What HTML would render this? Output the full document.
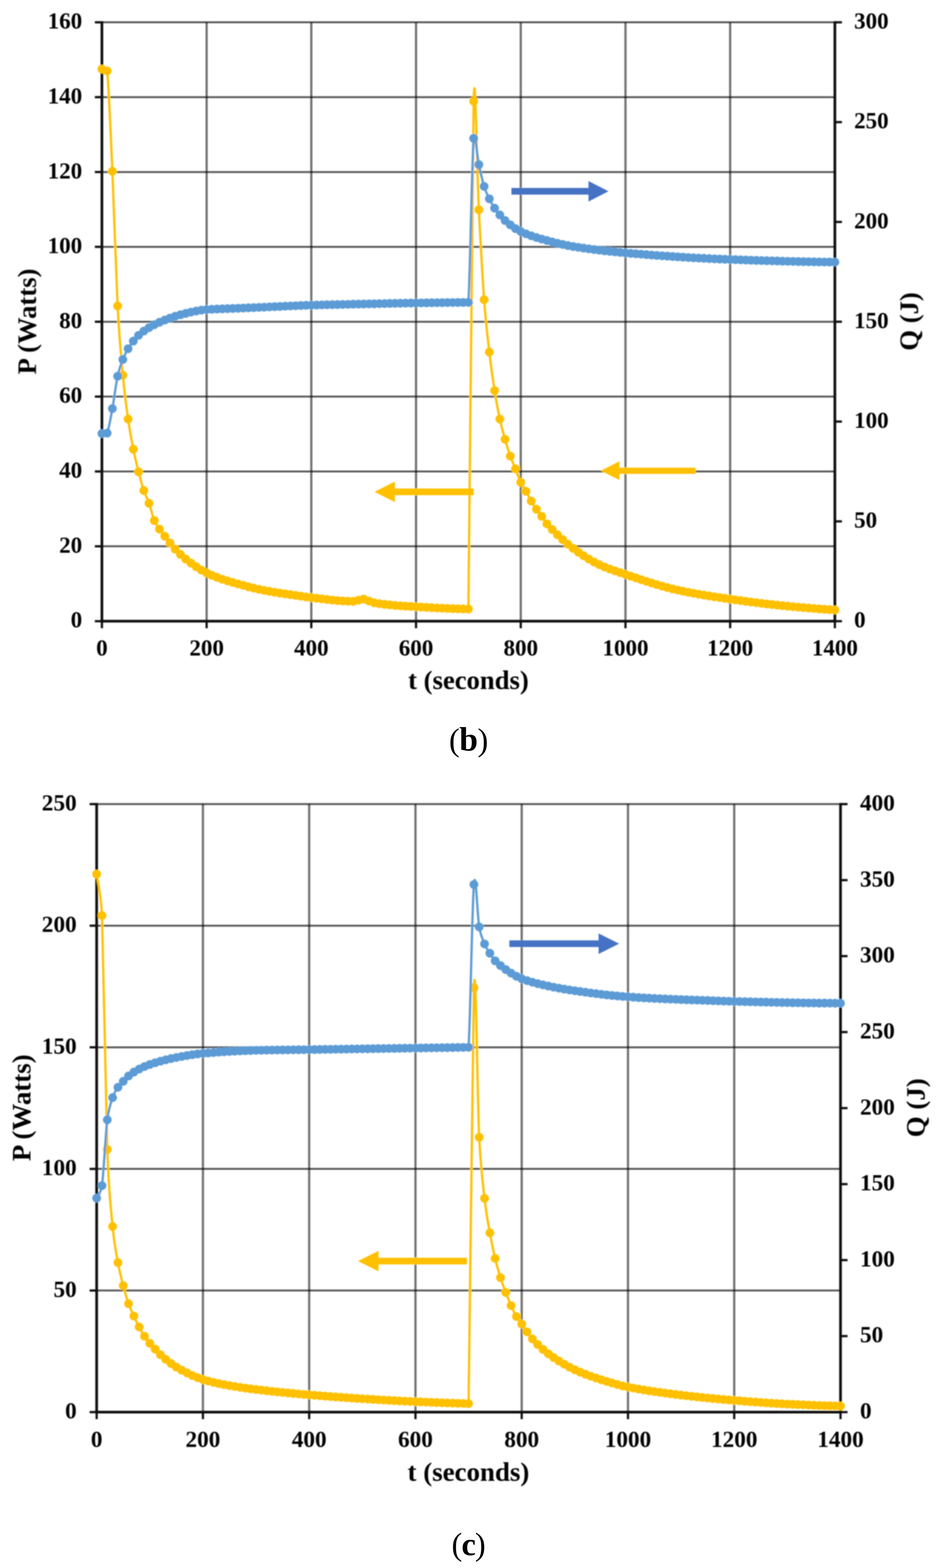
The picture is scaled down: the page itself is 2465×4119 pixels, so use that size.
<!DOCTYPE html>
<html lang="en">
<head>
<meta charset="utf-8">
<title>P (Watts) and Q (J) versus t (seconds)</title>
<style>
html,body{margin:0;padding:0;background:#fff;}
body{width:2465px;height:4119px;overflow:hidden;}
svg{display:block;}
</style>
</head>
<body>
<svg width="2465" height="4119" viewBox="0 0 2465 4119" font-family="'Liberation Serif', 'DejaVu Serif', serif" font-weight="bold" fill="#000">
<defs><filter id="soft" x="0" y="0" width="2465" height="4119" filterUnits="userSpaceOnUse"><feGaussianBlur stdDeviation="1.6"/></filter><filter id="soft2" x="0" y="0" width="2465" height="4119" filterUnits="userSpaceOnUse"><feGaussianBlur stdDeviation="0.5"/></filter></defs>
<rect width="2465" height="4119" fill="#fff"/>
<g filter="url(#soft)">
<g id="chart-b">
<g stroke="#000" stroke-opacity="0.66" stroke-width="5.0" fill="none">
<line x1="267.8" y1="1435.1" x2="2194.0" y2="1435.1"/>
<line x1="267.8" y1="1238.5" x2="2194.0" y2="1238.5"/>
<line x1="267.8" y1="1041.8" x2="2194.0" y2="1041.8"/>
<line x1="267.8" y1="845.2" x2="2194.0" y2="845.2"/>
<line x1="267.8" y1="648.5" x2="2194.0" y2="648.5"/>
<line x1="267.8" y1="451.9" x2="2194.0" y2="451.9"/>
<line x1="267.8" y1="255.2" x2="2194.0" y2="255.2"/>
<line x1="267.8" y1="58.6" x2="2194.0" y2="58.6"/>
</g>
<g stroke="#000" stroke-opacity="0.56" stroke-width="5.8" fill="none">
<line x1="543.0" y1="58.6" x2="543.0" y2="1631.8"/>
<line x1="818.1" y1="58.6" x2="818.1" y2="1631.8"/>
<line x1="1093.3" y1="58.6" x2="1093.3" y2="1631.8"/>
<line x1="1368.5" y1="58.6" x2="1368.5" y2="1631.8"/>
<line x1="1643.7" y1="58.6" x2="1643.7" y2="1631.8"/>
<line x1="1918.8" y1="58.6" x2="1918.8" y2="1631.8"/>
</g>
<g stroke="#0a0a0a" fill="none">
<g stroke-width="7.0">
<line x1="267.8" y1="55.7" x2="267.8" y2="1635.3"/>
<line x1="2194.0" y1="55.7" x2="2194.0" y2="1635.3"/>
<line x1="267.8" y1="1631.8" x2="2194.0" y2="1631.8"/>
</g>
<g stroke-width="5.8">
<line x1="249.3" y1="1631.8" x2="267.8" y2="1631.8"/>
<line x1="249.3" y1="1435.1" x2="267.8" y2="1435.1"/>
<line x1="249.3" y1="1238.5" x2="267.8" y2="1238.5"/>
<line x1="249.3" y1="1041.8" x2="267.8" y2="1041.8"/>
<line x1="249.3" y1="845.2" x2="267.8" y2="845.2"/>
<line x1="249.3" y1="648.5" x2="267.8" y2="648.5"/>
<line x1="249.3" y1="451.9" x2="267.8" y2="451.9"/>
<line x1="249.3" y1="255.2" x2="267.8" y2="255.2"/>
<line x1="249.3" y1="58.6" x2="267.8" y2="58.6"/>
<line x1="2194.0" y1="1631.8" x2="2212.5" y2="1631.8"/>
<line x1="2194.0" y1="1369.6" x2="2212.5" y2="1369.6"/>
<line x1="2194.0" y1="1107.4" x2="2212.5" y2="1107.4"/>
<line x1="2194.0" y1="845.2" x2="2212.5" y2="845.2"/>
<line x1="2194.0" y1="583.0" x2="2212.5" y2="583.0"/>
<line x1="2194.0" y1="320.8" x2="2212.5" y2="320.8"/>
<line x1="2194.0" y1="58.6" x2="2212.5" y2="58.6"/>
<line x1="267.8" y1="1631.8" x2="267.8" y2="1650.3"/>
<line x1="543.0" y1="1631.8" x2="543.0" y2="1650.3"/>
<line x1="818.1" y1="1631.8" x2="818.1" y2="1650.3"/>
<line x1="1093.3" y1="1631.8" x2="1093.3" y2="1650.3"/>
<line x1="1368.5" y1="1631.8" x2="1368.5" y2="1650.3"/>
<line x1="1643.7" y1="1631.8" x2="1643.7" y2="1650.3"/>
<line x1="1918.8" y1="1631.8" x2="1918.8" y2="1650.3"/>
<line x1="2194.0" y1="1631.8" x2="2194.0" y2="1650.3"/>
</g></g>
<path d="M267.8 181.5C270.1 182.3 280.8 179.2 281.6 186.4C286.1 231.2 290.7 347.0 295.3 449.9C299.9 552.8 304.5 714.6 309.1 803.9C313.7 893.2 318.2 936.3 322.8 985.8C327.4 1035.3 332.0 1068.5 336.6 1100.8C341.2 1133.2 345.8 1156.9 350.4 1180.0C354.9 1203.1 359.5 1221.4 364.1 1239.5C368.7 1257.6 373.3 1274.9 377.9 1288.6C382.5 1302.4 387.0 1309.0 391.6 1322.1C396.2 1335.2 400.8 1356.0 405.4 1367.3C410.0 1378.6 414.6 1383.0 419.1 1389.9C423.7 1396.8 428.3 1402.5 432.9 1408.6C437.5 1414.7 442.1 1420.6 446.7 1426.3C451.2 1432.0 455.8 1437.5 460.4 1442.5C465.0 1447.6 469.6 1452.1 474.2 1456.5C478.8 1460.8 483.4 1464.8 487.9 1468.6C492.5 1472.4 497.1 1475.8 501.7 1479.1C506.3 1482.5 510.9 1485.8 515.5 1488.8C520.0 1491.9 524.6 1494.8 529.2 1497.5C533.8 1500.2 538.4 1502.7 543.0 1505.0C547.6 1507.3 552.1 1509.3 556.7 1511.3C561.3 1513.3 565.9 1515.0 570.5 1516.8C575.1 1518.5 579.7 1520.1 584.2 1521.7C588.8 1523.2 593.4 1524.7 598.0 1526.1C602.6 1527.5 607.2 1528.8 611.8 1530.1C616.4 1531.4 620.9 1532.7 625.5 1533.9C630.1 1535.2 634.7 1536.4 639.3 1537.7C643.9 1538.9 648.5 1540.2 653.0 1541.5C657.6 1542.7 662.2 1543.9 666.8 1545.1C671.4 1546.2 676.0 1547.2 680.6 1548.2C685.1 1549.2 689.7 1550.1 694.3 1550.9C698.9 1551.8 703.5 1552.6 708.1 1553.4C712.7 1554.2 717.2 1555.0 721.8 1555.8C726.4 1556.5 731.0 1557.2 735.6 1558.0C740.2 1558.7 744.8 1559.4 749.4 1560.0C753.9 1560.7 758.5 1561.4 763.1 1562.1C767.7 1562.7 772.3 1563.4 776.9 1564.0C781.5 1564.7 786.0 1565.3 790.6 1566.0C795.2 1566.7 799.8 1567.4 804.4 1568.0C809.0 1568.6 813.6 1569.3 818.1 1569.9C822.7 1570.4 827.3 1570.9 831.9 1571.5C836.5 1572.0 841.1 1572.6 845.7 1573.2C850.2 1573.7 854.8 1574.3 859.4 1574.8C864.0 1575.3 868.6 1575.9 873.2 1576.3C877.8 1576.8 882.3 1577.3 886.9 1577.7C891.5 1578.1 896.1 1578.4 900.7 1578.7C905.3 1579.0 909.9 1579.3 914.5 1579.4C919.0 1579.6 923.6 1580.1 928.2 1579.7C932.8 1579.2 937.4 1577.7 942.0 1576.7C946.6 1575.8 951.1 1573.5 955.7 1573.8C960.3 1574.1 964.9 1577.1 969.5 1578.7C974.1 1580.3 978.7 1582.4 983.2 1583.6C987.8 1584.8 992.4 1585.1 997.0 1585.8C1001.6 1586.5 1006.2 1587.1 1010.8 1587.6C1015.3 1588.2 1019.9 1588.7 1024.5 1589.1C1029.1 1589.6 1033.7 1590.0 1038.3 1590.4C1042.9 1590.8 1047.5 1591.1 1052.0 1591.4C1056.6 1591.7 1061.2 1592.0 1065.8 1592.3C1070.4 1592.6 1075.0 1592.9 1079.6 1593.1C1084.1 1593.4 1088.7 1593.7 1093.3 1593.9C1097.9 1594.2 1102.5 1594.5 1107.1 1594.8C1111.7 1595.0 1116.2 1595.3 1120.8 1595.5C1125.4 1595.8 1130.0 1596.1 1134.6 1596.3C1139.2 1596.5 1143.8 1596.8 1148.3 1597.0C1152.9 1597.2 1157.5 1597.5 1162.1 1597.7C1166.7 1597.9 1171.3 1598.1 1175.9 1598.3C1180.5 1598.5 1185.0 1598.6 1189.6 1598.8C1194.2 1599.0 1198.8 1599.1 1203.4 1599.2C1208.0 1599.4 1212.6 1599.5 1217.1 1599.6C1221.7 1599.7 1230.8 1606.7 1230.9 1599.8C1235.5 1377.6 1240.1 440.8 1244.7 266.1C1248.4 123.4 1253.8 464.4 1258.4 551.2C1263.0 638.1 1267.6 724.9 1272.2 787.2C1276.8 849.5 1281.3 885.0 1285.9 924.8C1290.5 964.7 1295.1 996.8 1299.7 1026.1C1304.3 1055.5 1308.9 1079.5 1313.5 1100.8C1318.0 1122.1 1322.6 1137.7 1327.2 1153.9C1331.8 1170.2 1336.4 1185.2 1341.0 1198.2C1345.6 1211.1 1350.1 1220.1 1354.7 1231.6C1359.3 1243.1 1363.9 1257.2 1368.5 1267.0C1373.1 1276.8 1377.7 1282.4 1382.2 1290.6C1386.8 1298.8 1391.4 1308.3 1396.0 1316.2C1400.6 1324.0 1405.2 1331.1 1409.8 1337.8C1414.3 1344.5 1418.9 1350.1 1423.5 1356.5C1428.1 1362.9 1432.7 1370.4 1437.3 1376.2C1441.9 1381.9 1446.5 1386.2 1451.0 1390.9C1455.6 1395.7 1460.2 1400.2 1464.8 1404.7C1469.4 1409.1 1474.0 1413.3 1478.6 1417.5C1483.1 1421.6 1487.7 1425.8 1492.3 1429.6C1496.9 1433.5 1501.5 1437.1 1506.1 1440.6C1510.7 1444.0 1515.2 1447.2 1519.8 1450.5C1524.4 1453.7 1529.0 1456.8 1533.6 1459.8C1538.2 1462.8 1542.8 1465.8 1547.3 1468.5C1551.9 1471.3 1556.5 1473.9 1561.1 1476.4C1565.7 1478.9 1570.3 1481.2 1574.9 1483.3C1579.5 1485.5 1584.0 1487.4 1588.6 1489.3C1593.2 1491.2 1597.8 1493.0 1602.4 1494.7C1607.0 1496.4 1611.6 1498.0 1616.1 1499.6C1620.7 1501.2 1625.3 1502.8 1629.9 1504.3C1634.5 1505.8 1639.1 1507.4 1643.7 1508.9C1648.2 1510.4 1652.8 1512.0 1657.4 1513.5C1662.0 1515.1 1666.6 1516.6 1671.2 1518.1C1675.8 1519.7 1680.3 1521.2 1684.9 1522.7C1689.5 1524.2 1694.1 1525.7 1698.7 1527.2C1703.3 1528.7 1707.9 1530.1 1712.5 1531.6C1717.0 1533.0 1721.6 1534.4 1726.2 1535.8C1730.8 1537.1 1735.4 1538.5 1740.0 1539.8C1744.6 1541.1 1749.1 1542.3 1753.7 1543.5C1758.3 1544.7 1762.9 1545.9 1767.5 1547.0C1772.1 1548.1 1776.7 1549.2 1781.2 1550.2C1785.8 1551.2 1790.4 1552.2 1795.0 1553.1C1799.6 1554.0 1804.2 1555.0 1808.8 1555.9C1813.3 1556.7 1817.9 1557.6 1822.5 1558.4C1827.1 1559.3 1831.7 1560.1 1836.3 1560.9C1840.9 1561.7 1845.4 1562.5 1850.0 1563.3C1854.6 1564.0 1859.2 1564.8 1863.8 1565.5C1868.4 1566.2 1873.0 1566.9 1877.6 1567.7C1882.1 1568.4 1886.7 1569.1 1891.3 1569.7C1895.9 1570.4 1900.5 1571.1 1905.1 1571.8C1909.7 1572.5 1914.2 1573.1 1918.8 1573.8C1923.4 1574.5 1928.0 1575.1 1932.6 1575.8C1937.2 1576.4 1941.8 1577.1 1946.3 1577.7C1950.9 1578.3 1955.5 1579.0 1960.1 1579.6C1964.7 1580.2 1969.3 1580.8 1973.9 1581.4C1978.4 1582.0 1983.0 1582.6 1987.6 1583.2C1992.2 1583.8 1996.8 1584.3 2001.4 1584.9C2006.0 1585.4 2010.6 1586.0 2015.1 1586.5C2019.7 1587.1 2024.3 1587.6 2028.9 1588.1C2033.5 1588.6 2038.1 1589.1 2042.7 1589.6C2047.2 1590.1 2051.8 1590.5 2056.4 1591.0C2061.0 1591.5 2065.6 1591.9 2070.2 1592.3C2074.8 1592.8 2079.3 1593.2 2083.9 1593.7C2088.5 1594.1 2093.1 1594.5 2097.7 1594.9C2102.3 1595.3 2106.9 1595.7 2111.4 1596.1C2116.0 1596.5 2120.6 1596.9 2125.2 1597.3C2129.8 1597.7 2134.4 1598.1 2139.0 1598.4C2143.6 1598.8 2148.1 1599.1 2152.7 1599.5C2157.3 1599.8 2161.9 1600.2 2166.5 1600.5C2171.1 1600.8 2175.7 1601.1 2180.2 1601.4C2184.8 1601.7 2191.7 1602.2 2194.0 1602.3" fill="none" stroke="#FFC000" stroke-width="6.0" stroke-linejoin="round" stroke-linecap="round"/>
<path d="M267.8 181.5h0M281.6 186.4h0M295.3 449.9h0M309.1 803.9h0M322.8 985.8h0M336.6 1100.8h0M350.4 1180.0h0M364.1 1239.5h0M377.9 1288.6h0M391.6 1322.1h0M405.4 1367.3h0M419.1 1389.9h0M432.9 1408.6h0M446.7 1426.3h0M460.4 1442.5h0M474.2 1456.5h0M487.9 1468.6h0M501.7 1479.1h0M515.5 1488.8h0M529.2 1497.5h0M543.0 1505.0h0M556.7 1511.3h0M570.5 1516.8h0M584.2 1521.7h0M598.0 1526.1h0M611.8 1530.1h0M625.5 1533.9h0M639.3 1537.7h0M653.0 1541.5h0M666.8 1545.1h0M680.6 1548.2h0M694.3 1550.9h0M708.1 1553.4h0M721.8 1555.8h0M735.6 1558.0h0M749.4 1560.0h0M763.1 1562.1h0M776.9 1564.0h0M790.6 1566.0h0M804.4 1568.0h0M818.1 1569.9h0M831.9 1571.5h0M845.7 1573.2h0M859.4 1574.8h0M873.2 1576.3h0M886.9 1577.7h0M900.7 1578.7h0M914.5 1579.4h0M928.2 1579.7h0M942.0 1576.7h0M955.7 1573.8h0M969.5 1578.7h0M983.2 1583.6h0M997.0 1585.8h0M1010.8 1587.6h0M1024.5 1589.1h0M1038.3 1590.4h0M1052.0 1591.4h0M1065.8 1592.3h0M1079.6 1593.1h0M1093.3 1593.9h0M1107.1 1594.8h0M1120.8 1595.5h0M1134.6 1596.3h0M1148.3 1597.0h0M1162.1 1597.7h0M1175.9 1598.3h0M1189.6 1598.8h0M1203.4 1599.2h0M1217.1 1599.6h0M1230.9 1599.8h0M1244.7 266.1h0M1258.4 551.2h0M1272.2 787.2h0M1285.9 924.8h0M1299.7 1026.1h0M1313.5 1100.8h0M1327.2 1153.9h0M1341.0 1198.2h0M1354.7 1231.6h0M1368.5 1267.0h0M1382.2 1290.6h0M1396.0 1316.2h0M1409.8 1337.8h0M1423.5 1356.5h0M1437.3 1376.2h0M1451.0 1390.9h0M1464.8 1404.7h0M1478.6 1417.5h0M1492.3 1429.6h0M1506.1 1440.6h0M1519.8 1450.5h0M1533.6 1459.8h0M1547.3 1468.5h0M1561.1 1476.4h0M1574.9 1483.3h0M1588.6 1489.3h0M1602.4 1494.7h0M1616.1 1499.6h0M1629.9 1504.3h0M1643.7 1508.9h0M1657.4 1513.5h0M1671.2 1518.1h0M1684.9 1522.7h0M1698.7 1527.2h0M1712.5 1531.6h0M1726.2 1535.8h0M1740.0 1539.8h0M1753.7 1543.5h0M1767.5 1547.0h0M1781.2 1550.2h0M1795.0 1553.1h0M1808.8 1555.9h0M1822.5 1558.4h0M1836.3 1560.9h0M1850.0 1563.3h0M1863.8 1565.5h0M1877.6 1567.7h0M1891.3 1569.7h0M1905.1 1571.8h0M1918.8 1573.8h0M1932.6 1575.8h0M1946.3 1577.7h0M1960.1 1579.6h0M1973.9 1581.4h0M1987.6 1583.2h0M2001.4 1584.9h0M2015.1 1586.5h0M2028.9 1588.1h0M2042.7 1589.6h0M2056.4 1591.0h0M2070.2 1592.3h0M2083.9 1593.7h0M2097.7 1594.9h0M2111.4 1596.1h0M2125.2 1597.3h0M2139.0 1598.4h0M2152.7 1599.5h0M2166.5 1600.5h0M2180.2 1601.4h0M2194.0 1602.3h0" fill="none" stroke="#FFC000" stroke-width="23.0" stroke-linecap="round"/>
<path d="M267.8 1138.9C270.1 1138.7 278.9 1144.2 281.6 1137.8C286.1 1126.9 290.7 1098.2 295.3 1073.3C299.9 1048.4 304.5 1009.9 309.1 988.4C313.7 966.9 318.2 956.4 322.8 944.3C327.4 932.3 332.0 924.0 336.6 916.0C341.2 908.0 345.8 901.9 350.4 896.1C354.9 890.2 359.5 885.2 364.1 880.9C368.7 876.5 373.3 873.2 377.9 869.8C382.5 866.5 387.0 863.5 391.6 860.7C396.2 857.9 400.8 855.4 405.4 853.1C410.0 850.7 414.6 848.7 419.1 846.6C423.7 844.6 428.3 842.6 432.9 840.8C437.5 838.9 442.1 837.1 446.7 835.5C451.2 833.8 455.8 832.2 460.4 830.8C465.0 829.4 469.6 828.1 474.2 826.8C478.8 825.6 483.4 824.4 487.9 823.3C492.5 822.1 497.1 821.0 501.7 819.9C506.3 818.9 510.9 817.9 515.5 817.0C520.0 816.1 524.6 815.3 529.2 814.7C533.8 814.0 538.4 813.6 543.0 813.2C547.6 812.8 552.1 812.6 556.7 812.4C561.3 812.2 565.9 812.0 570.5 811.8C575.1 811.6 579.7 811.5 584.2 811.3C588.8 811.1 593.4 811.0 598.0 810.8C602.6 810.7 607.2 810.5 611.8 810.3C616.4 810.1 620.9 809.9 625.5 809.8C630.1 809.6 634.7 809.4 639.3 809.2C643.9 809.0 648.5 808.8 653.0 808.6C657.6 808.4 662.2 808.2 666.8 808.0C671.4 807.8 676.0 807.6 680.6 807.4C685.1 807.2 689.7 807.1 694.3 806.9C698.9 806.6 703.5 806.4 708.1 806.2C712.7 806.0 717.2 805.8 721.8 805.6C726.4 805.4 731.0 805.2 735.6 805.0C740.2 804.8 744.8 804.6 749.4 804.3C753.9 804.1 758.5 803.9 763.1 803.7C767.7 803.5 772.3 803.3 776.9 803.2C781.5 803.0 786.0 802.8 790.6 802.6C795.2 802.4 799.8 802.3 804.4 802.1C809.0 802.0 813.6 801.8 818.1 801.7C822.7 801.5 827.3 801.4 831.9 801.3C836.5 801.2 841.1 801.0 845.7 800.9C850.2 800.8 854.8 800.7 859.4 800.6C864.0 800.5 868.6 800.4 873.2 800.3C877.8 800.2 882.3 800.0 886.9 800.0C891.5 799.9 896.1 799.8 900.7 799.7C905.3 799.6 909.9 799.5 914.5 799.4C919.0 799.3 923.6 799.2 928.2 799.1C932.8 799.0 937.4 798.9 942.0 798.8C946.6 798.7 951.1 798.6 955.7 798.5C960.3 798.4 964.9 798.3 969.5 798.2C974.1 798.1 978.7 798.0 983.2 798.0C987.8 797.9 992.4 797.8 997.0 797.7C1001.6 797.6 1006.2 797.5 1010.8 797.4C1015.3 797.3 1019.9 797.2 1024.5 797.1C1029.1 797.0 1033.7 796.9 1038.3 796.8C1042.9 796.8 1047.5 796.7 1052.0 796.6C1056.6 796.5 1061.2 796.4 1065.8 796.3C1070.4 796.3 1075.0 796.2 1079.6 796.1C1084.1 796.0 1088.7 796.0 1093.3 795.9C1097.9 795.8 1102.5 795.8 1107.1 795.7C1111.7 795.6 1116.2 795.6 1120.8 795.5C1125.4 795.5 1130.0 795.4 1134.6 795.3C1139.2 795.3 1143.8 795.2 1148.3 795.2C1152.9 795.1 1157.5 795.1 1162.1 795.0C1166.7 795.0 1171.3 794.9 1175.9 794.8C1180.5 794.8 1185.0 794.8 1189.6 794.7C1194.2 794.7 1198.8 794.6 1203.4 794.6C1208.0 794.5 1212.6 794.5 1217.1 794.4C1221.7 794.4 1230.5 801.2 1230.9 794.3C1235.5 722.5 1240.1 423.6 1244.7 363.3C1247.3 328.1 1253.8 411.4 1258.4 432.5C1263.0 453.6 1267.6 474.7 1272.2 489.7C1276.8 504.6 1281.3 512.6 1285.9 522.2C1290.5 531.7 1295.1 539.7 1299.7 546.8C1304.3 553.9 1308.9 559.2 1313.5 564.6C1318.0 570.1 1322.6 575.0 1327.2 579.3C1331.8 583.7 1336.4 587.2 1341.0 590.7C1345.6 594.2 1350.1 597.6 1354.7 600.5C1359.3 603.4 1363.9 605.9 1368.5 608.2C1373.1 610.5 1377.7 612.3 1382.2 614.2C1386.8 616.1 1391.4 617.7 1396.0 619.4C1400.6 621.0 1405.2 622.4 1409.8 623.9C1414.3 625.3 1418.9 626.6 1423.5 627.9C1428.1 629.3 1432.7 630.5 1437.3 631.8C1441.9 633.0 1446.5 634.3 1451.0 635.5C1455.6 636.7 1460.2 637.8 1464.8 638.9C1469.4 640.1 1474.0 641.1 1478.6 642.1C1483.1 643.2 1487.7 644.1 1492.3 645.0C1496.9 645.9 1501.5 646.7 1506.1 647.5C1510.7 648.3 1515.2 649.0 1519.8 649.7C1524.4 650.4 1529.0 651.1 1533.6 651.8C1538.2 652.4 1542.8 653.1 1547.3 653.7C1551.9 654.3 1556.5 654.9 1561.1 655.5C1565.7 656.1 1570.3 656.7 1574.9 657.2C1579.5 657.8 1584.0 658.3 1588.6 658.8C1593.2 659.4 1597.8 659.9 1602.4 660.3C1607.0 660.8 1611.6 661.3 1616.1 661.7C1620.7 662.2 1625.3 662.6 1629.9 663.1C1634.5 663.5 1639.1 663.9 1643.7 664.3C1648.2 664.7 1652.8 665.1 1657.4 665.5C1662.0 665.8 1666.6 666.2 1671.2 666.6C1675.8 667.0 1680.3 667.3 1684.9 667.7C1689.5 668.1 1694.1 668.4 1698.7 668.8C1703.3 669.2 1707.9 669.5 1712.5 669.9C1717.0 670.2 1721.6 670.5 1726.2 670.9C1730.8 671.2 1735.4 671.6 1740.0 671.9C1744.6 672.2 1749.1 672.5 1753.7 672.8C1758.3 673.2 1762.9 673.5 1767.5 673.8C1772.1 674.1 1776.7 674.4 1781.2 674.7C1785.8 675.0 1790.4 675.3 1795.0 675.5C1799.6 675.8 1804.2 676.1 1808.8 676.4C1813.3 676.6 1817.9 676.9 1822.5 677.2C1827.1 677.4 1831.7 677.7 1836.3 677.9C1840.9 678.1 1845.4 678.4 1850.0 678.6C1854.6 678.8 1859.2 679.1 1863.8 679.3C1868.4 679.5 1873.0 679.7 1877.6 679.9C1882.1 680.1 1886.7 680.3 1891.3 680.5C1895.9 680.7 1900.5 680.9 1905.1 681.1C1909.7 681.3 1914.2 681.4 1918.8 681.6C1923.4 681.8 1928.0 681.9 1932.6 682.1C1937.2 682.2 1941.8 682.4 1946.3 682.6C1950.9 682.7 1955.5 682.9 1960.1 683.0C1964.7 683.2 1969.3 683.3 1973.9 683.5C1978.4 683.7 1983.0 683.8 1987.6 684.0C1992.2 684.1 1996.8 684.3 2001.4 684.4C2006.0 684.5 2010.6 684.7 2015.1 684.8C2019.7 685.0 2024.3 685.1 2028.9 685.2C2033.5 685.4 2038.1 685.5 2042.7 685.6C2047.2 685.8 2051.8 685.9 2056.4 686.0C2061.0 686.1 2065.6 686.3 2070.2 686.4C2074.8 686.5 2079.3 686.6 2083.9 686.7C2088.5 686.8 2093.1 686.9 2097.7 687.0C2102.3 687.1 2106.9 687.2 2111.4 687.3C2116.0 687.4 2120.6 687.5 2125.2 687.6C2129.8 687.7 2134.4 687.7 2139.0 687.8C2143.6 687.9 2148.1 687.9 2152.7 688.0C2157.3 688.1 2161.9 688.1 2166.5 688.2C2171.1 688.2 2175.7 688.3 2180.2 688.3C2184.8 688.3 2191.7 688.4 2194.0 688.4" fill="none" stroke="#5B9BD5" stroke-width="6.0" stroke-linejoin="round" stroke-linecap="round"/>
<path d="M267.8 1138.9h0M281.6 1137.8h0M295.3 1073.3h0M309.1 988.4h0M322.8 944.3h0M336.6 916.0h0M350.4 896.1h0M364.1 880.9h0M377.9 869.8h0M391.6 860.7h0M405.4 853.1h0M419.1 846.6h0M432.9 840.8h0M446.7 835.5h0M460.4 830.8h0M474.2 826.8h0M487.9 823.3h0M501.7 819.9h0M515.5 817.0h0M529.2 814.7h0M543.0 813.2h0M556.7 812.4h0M570.5 811.8h0M584.2 811.3h0M598.0 810.8h0M611.8 810.3h0M625.5 809.8h0M639.3 809.2h0M653.0 808.6h0M666.8 808.0h0M680.6 807.4h0M694.3 806.9h0M708.1 806.2h0M721.8 805.6h0M735.6 805.0h0M749.4 804.3h0M763.1 803.7h0M776.9 803.2h0M790.6 802.6h0M804.4 802.1h0M818.1 801.7h0M831.9 801.3h0M845.7 800.9h0M859.4 800.6h0M873.2 800.3h0M886.9 800.0h0M900.7 799.7h0M914.5 799.4h0M928.2 799.1h0M942.0 798.8h0M955.7 798.5h0M969.5 798.2h0M983.2 798.0h0M997.0 797.7h0M1010.8 797.4h0M1024.5 797.1h0M1038.3 796.8h0M1052.0 796.6h0M1065.8 796.3h0M1079.6 796.1h0M1093.3 795.9h0M1107.1 795.7h0M1120.8 795.5h0M1134.6 795.3h0M1148.3 795.2h0M1162.1 795.0h0M1175.9 794.8h0M1189.6 794.7h0M1203.4 794.6h0M1217.1 794.4h0M1230.9 794.3h0M1244.7 363.3h0M1258.4 432.5h0M1272.2 489.7h0M1285.9 522.2h0M1299.7 546.8h0M1313.5 564.6h0M1327.2 579.3h0M1341.0 590.7h0M1354.7 600.5h0M1368.5 608.2h0M1382.2 614.2h0M1396.0 619.4h0M1409.8 623.9h0M1423.5 627.9h0M1437.3 631.8h0M1451.0 635.5h0M1464.8 638.9h0M1478.6 642.1h0M1492.3 645.0h0M1506.1 647.5h0M1519.8 649.7h0M1533.6 651.8h0M1547.3 653.7h0M1561.1 655.5h0M1574.9 657.2h0M1588.6 658.8h0M1602.4 660.3h0M1616.1 661.7h0M1629.9 663.1h0M1643.7 664.3h0M1657.4 665.5h0M1671.2 666.6h0M1684.9 667.7h0M1698.7 668.8h0M1712.5 669.9h0M1726.2 670.9h0M1740.0 671.9h0M1753.7 672.8h0M1767.5 673.8h0M1781.2 674.7h0M1795.0 675.5h0M1808.8 676.4h0M1822.5 677.2h0M1836.3 677.9h0M1850.0 678.6h0M1863.8 679.3h0M1877.6 679.9h0M1891.3 680.5h0M1905.1 681.1h0M1918.8 681.6h0M1932.6 682.1h0M1946.3 682.6h0M1960.1 683.0h0M1973.9 683.5h0M1987.6 684.0h0M2001.4 684.4h0M2015.1 684.8h0M2028.9 685.2h0M2042.7 685.6h0M2056.4 686.0h0M2070.2 686.4h0M2083.9 686.7h0M2097.7 687.0h0M2111.4 687.3h0M2125.2 687.6h0M2139.0 687.8h0M2152.7 688.0h0M2166.5 688.2h0M2180.2 688.3h0M2194.0 688.4h0" fill="none" stroke="#5B9BD5" stroke-width="23.0" stroke-linecap="round"/>
<polygon fill="#4472C4" points="1344.0,493.8 1546.5,493.8 1546.5,475.5 1599.0,502.5 1546.5,529.5 1546.5,511.2 1344.0,511.2"/>
<polygon fill="#FFC000" points="1244.8,1283.2 1037.8,1283.2 1037.8,1265.0 984.0,1292.0 1037.8,1319.0 1037.8,1300.8 1244.8,1300.8"/>
<polygon fill="#FFC000" points="1828.0,1228.5 1628.0,1228.5 1628.0,1211.8 1579.3,1236.6 1628.0,1261.3 1628.0,1244.7 1828.0,1244.7"/>
<g font-size="60.5">
<text x="216.0" y="1648.4" text-anchor="end">0</text>
<text x="216.0" y="1451.7" text-anchor="end">20</text>
<text x="216.0" y="1255.1" text-anchor="end">40</text>
<text x="216.0" y="1058.4" text-anchor="end">60</text>
<text x="216.0" y="861.8" text-anchor="end">80</text>
<text x="216.0" y="665.1" text-anchor="end">100</text>
<text x="216.0" y="468.5" text-anchor="end">120</text>
<text x="216.0" y="271.9" text-anchor="end">140</text>
<text x="216.0" y="75.2" text-anchor="end">160</text>
<text x="2244.5" y="1648.4">0</text>
<text x="2244.5" y="1386.2">50</text>
<text x="2244.5" y="1124.0">100</text>
<text x="2244.5" y="861.8">150</text>
<text x="2244.5" y="599.6">200</text>
<text x="2244.5" y="337.4">250</text>
<text x="2244.5" y="75.2">300</text>
<text x="267.8" y="1722.0" text-anchor="middle">0</text>
<text x="543.0" y="1722.0" text-anchor="middle">200</text>
<text x="818.1" y="1722.0" text-anchor="middle">400</text>
<text x="1093.3" y="1722.0" text-anchor="middle">600</text>
<text x="1368.5" y="1722.0" text-anchor="middle">800</text>
<text x="1643.7" y="1722.0" text-anchor="middle">1000</text>
<text x="1918.8" y="1722.0" text-anchor="middle">1200</text>
<text x="2194.0" y="1722.0" text-anchor="middle">1400</text>
</g>
<g font-size="70" text-anchor="middle">
<text x="1231.0" y="1810.0">t (seconds)</text>
<text transform="translate(94.5 844.5) rotate(-90)">P (Watts)</text>
<text transform="translate(2412.5 844.5) rotate(-90)">Q (J)</text>
</g>
</g>
<g id="chart-c">
<g stroke="#000" stroke-opacity="0.66" stroke-width="5.0" fill="none">
<line x1="254.0" y1="3390.1" x2="2208.8" y2="3390.1"/>
<line x1="254.0" y1="3070.6" x2="2208.8" y2="3070.6"/>
<line x1="254.0" y1="2751.2" x2="2208.8" y2="2751.2"/>
<line x1="254.0" y1="2431.7" x2="2208.8" y2="2431.7"/>
<line x1="254.0" y1="2112.3" x2="2208.8" y2="2112.3"/>
</g>
<g stroke="#000" stroke-opacity="0.56" stroke-width="5.8" fill="none">
<line x1="533.3" y1="2112.3" x2="533.3" y2="3709.5"/>
<line x1="812.5" y1="2112.3" x2="812.5" y2="3709.5"/>
<line x1="1091.8" y1="2112.3" x2="1091.8" y2="3709.5"/>
<line x1="1371.0" y1="2112.3" x2="1371.0" y2="3709.5"/>
<line x1="1650.3" y1="2112.3" x2="1650.3" y2="3709.5"/>
<line x1="1929.5" y1="2112.3" x2="1929.5" y2="3709.5"/>
</g>
<g stroke="#0a0a0a" fill="none">
<g stroke-width="7.0">
<line x1="254.0" y1="2109.4" x2="254.0" y2="3713.0"/>
<line x1="2208.8" y1="2109.4" x2="2208.8" y2="3713.0"/>
<line x1="254.0" y1="3709.5" x2="2208.8" y2="3709.5"/>
</g>
<g stroke-width="5.8">
<line x1="235.5" y1="3709.5" x2="254.0" y2="3709.5"/>
<line x1="235.5" y1="3390.1" x2="254.0" y2="3390.1"/>
<line x1="235.5" y1="3070.6" x2="254.0" y2="3070.6"/>
<line x1="235.5" y1="2751.2" x2="254.0" y2="2751.2"/>
<line x1="235.5" y1="2431.7" x2="254.0" y2="2431.7"/>
<line x1="235.5" y1="2112.3" x2="254.0" y2="2112.3"/>
<line x1="2208.8" y1="3709.5" x2="2227.3" y2="3709.5"/>
<line x1="2208.8" y1="3509.8" x2="2227.3" y2="3509.8"/>
<line x1="2208.8" y1="3310.2" x2="2227.3" y2="3310.2"/>
<line x1="2208.8" y1="3110.6" x2="2227.3" y2="3110.6"/>
<line x1="2208.8" y1="2910.9" x2="2227.3" y2="2910.9"/>
<line x1="2208.8" y1="2711.2" x2="2227.3" y2="2711.2"/>
<line x1="2208.8" y1="2511.6" x2="2227.3" y2="2511.6"/>
<line x1="2208.8" y1="2312.0" x2="2227.3" y2="2312.0"/>
<line x1="2208.8" y1="2112.3" x2="2227.3" y2="2112.3"/>
<line x1="254.0" y1="3709.5" x2="254.0" y2="3728.0"/>
<line x1="533.3" y1="3709.5" x2="533.3" y2="3728.0"/>
<line x1="812.5" y1="3709.5" x2="812.5" y2="3728.0"/>
<line x1="1091.8" y1="3709.5" x2="1091.8" y2="3728.0"/>
<line x1="1371.0" y1="3709.5" x2="1371.0" y2="3728.0"/>
<line x1="1650.3" y1="3709.5" x2="1650.3" y2="3728.0"/>
<line x1="1929.5" y1="3709.5" x2="1929.5" y2="3728.0"/>
<line x1="2208.8" y1="3709.5" x2="2208.8" y2="3728.0"/>
</g></g>
<path d="M254.0 2296.3C256.3 2314.4 265.9 2350.2 268.0 2404.9C272.6 2525.4 277.3 2883.3 281.9 3019.5C285.4 3121.0 291.2 3172.5 295.9 3222.0C300.4 3269.6 305.2 3290.7 309.9 3316.6C314.5 3342.5 319.2 3359.3 323.8 3377.3C328.5 3395.3 333.1 3411.2 337.8 3424.6C342.4 3437.9 347.1 3446.9 351.7 3457.1C356.4 3467.4 361.0 3477.1 365.7 3485.9C370.4 3494.7 375.0 3503.0 379.7 3510.2C384.3 3517.3 389.0 3523.1 393.6 3528.7C398.3 3534.3 402.9 3539.0 407.6 3544.0C412.2 3549.0 416.9 3554.3 421.6 3558.7C426.2 3563.2 430.9 3567.0 435.5 3570.9C440.2 3574.7 444.8 3578.4 449.5 3581.8C454.1 3585.2 458.8 3588.4 463.4 3591.3C468.1 3594.2 472.8 3596.7 477.4 3599.3C482.1 3601.8 486.7 3604.3 491.4 3606.6C496.0 3609.0 500.7 3611.2 505.3 3613.3C510.0 3615.4 514.6 3617.3 519.3 3619.1C523.9 3620.8 528.6 3622.4 533.3 3623.9C537.9 3625.4 542.6 3626.6 547.2 3627.9C551.9 3629.1 556.5 3630.3 561.2 3631.4C565.8 3632.5 570.5 3633.5 575.1 3634.5C579.8 3635.5 584.5 3636.4 589.1 3637.3C593.8 3638.2 598.4 3639.0 603.1 3639.9C607.7 3640.7 612.4 3641.5 617.0 3642.2C621.7 3643.0 626.3 3643.7 631.0 3644.4C635.7 3645.1 640.3 3645.8 645.0 3646.5C649.6 3647.1 654.3 3647.7 658.9 3648.3C663.6 3648.9 668.2 3649.5 672.9 3650.1C677.5 3650.7 682.2 3651.2 686.8 3651.7C691.5 3652.3 696.2 3652.8 700.8 3653.3C705.5 3653.9 710.1 3654.4 714.8 3654.9C719.4 3655.4 724.1 3655.9 728.7 3656.3C733.4 3656.8 738.0 3657.3 742.7 3657.8C747.4 3658.2 752.0 3658.7 756.7 3659.1C761.3 3659.6 766.0 3660.0 770.6 3660.4C775.3 3660.9 779.9 3661.3 784.6 3661.7C789.2 3662.1 793.9 3662.5 798.6 3662.9C803.2 3663.3 807.9 3663.7 812.5 3664.1C817.2 3664.5 821.8 3664.9 826.5 3665.3C831.1 3665.7 835.8 3666.1 840.4 3666.4C845.1 3666.8 849.7 3667.2 854.4 3667.5C859.1 3667.9 863.7 3668.3 868.4 3668.6C873.0 3669.0 877.7 3669.3 882.3 3669.6C887.0 3670.0 891.6 3670.3 896.3 3670.6C900.9 3671.0 905.6 3671.3 910.3 3671.6C914.9 3671.9 919.6 3672.2 924.2 3672.6C928.9 3672.9 933.5 3673.2 938.2 3673.5C942.8 3673.8 947.5 3674.1 952.1 3674.4C956.8 3674.7 961.5 3674.9 966.1 3675.2C970.8 3675.5 975.4 3675.8 980.1 3676.1C984.7 3676.4 989.4 3676.6 994.0 3676.9C998.7 3677.2 1003.3 3677.5 1008.0 3677.7C1012.6 3678.0 1017.3 3678.3 1022.0 3678.5C1026.6 3678.8 1031.3 3679.0 1035.9 3679.3C1040.6 3679.5 1045.2 3679.8 1049.9 3680.0C1054.5 3680.3 1059.2 3680.5 1063.8 3680.7C1068.5 3681.0 1073.2 3681.2 1077.8 3681.4C1082.5 3681.6 1087.1 3681.8 1091.8 3682.0C1096.4 3682.2 1101.1 3682.4 1105.7 3682.6C1110.4 3682.8 1115.0 3683.0 1119.7 3683.2C1124.4 3683.4 1129.0 3683.6 1133.7 3683.8C1138.3 3684.0 1143.0 3684.2 1147.6 3684.3C1152.3 3684.5 1156.9 3684.7 1161.6 3684.9C1166.2 3685.0 1170.9 3685.2 1175.5 3685.4C1180.2 3685.5 1184.9 3685.7 1189.5 3685.9C1194.2 3686.0 1198.8 3686.2 1203.5 3686.3C1208.1 3686.5 1212.8 3686.6 1217.4 3686.7C1222.1 3686.9 1231.2 3694.1 1231.4 3687.1C1236.1 3505.1 1240.7 2711.3 1245.4 2594.7C1250.0 2478.1 1254.7 2895.4 1259.3 2987.6C1263.4 3067.9 1268.6 3106.1 1273.3 3147.9C1277.9 3189.8 1282.6 3212.3 1287.3 3238.6C1291.9 3264.9 1296.6 3286.1 1301.2 3305.7C1305.9 3325.3 1310.5 3341.3 1315.2 3356.2C1319.8 3371.1 1324.5 3382.9 1329.1 3395.2C1333.8 3407.4 1338.4 3419.1 1343.1 3429.7C1347.8 3440.2 1352.4 3450.3 1357.1 3458.4C1361.7 3466.5 1366.4 3471.5 1371.0 3478.2C1375.7 3484.9 1380.3 3492.2 1385.0 3498.7C1389.6 3505.2 1394.3 3511.7 1399.0 3517.2C1403.6 3522.7 1408.3 3527.3 1412.9 3531.9C1417.6 3536.5 1422.2 3540.8 1426.9 3544.8C1431.5 3548.9 1436.2 3552.6 1440.8 3556.2C1445.5 3559.7 1450.2 3562.9 1454.8 3566.1C1459.5 3569.2 1464.1 3572.3 1468.8 3575.3C1473.4 3578.2 1478.1 3581.0 1482.7 3583.7C1487.4 3586.4 1492.0 3589.0 1496.7 3591.4C1501.3 3593.9 1506.0 3596.2 1510.7 3598.3C1515.3 3600.5 1520.0 3602.5 1524.6 3604.5C1529.3 3606.4 1533.9 3608.3 1538.6 3610.1C1543.2 3611.9 1547.9 3613.6 1552.5 3615.2C1557.2 3616.9 1561.9 3618.5 1566.5 3620.0C1571.2 3621.6 1575.8 3623.0 1580.5 3624.5C1585.1 3626.0 1589.8 3627.5 1594.4 3628.9C1599.1 3630.3 1603.7 3631.8 1608.4 3633.1C1613.1 3634.5 1617.7 3635.8 1622.4 3637.0C1627.0 3638.3 1631.7 3639.5 1636.3 3640.6C1641.0 3641.7 1645.6 3642.7 1650.3 3643.7C1654.9 3644.7 1659.6 3645.5 1664.2 3646.4C1668.9 3647.3 1673.6 3648.1 1678.2 3648.9C1682.9 3649.8 1687.5 3650.5 1692.2 3651.3C1696.8 3652.1 1701.5 3652.8 1706.1 3653.5C1710.8 3654.3 1715.4 3654.9 1720.1 3655.6C1724.8 3656.3 1729.4 3657.0 1734.1 3657.6C1738.7 3658.3 1743.4 3658.9 1748.0 3659.5C1752.7 3660.1 1757.3 3660.7 1762.0 3661.3C1766.6 3661.9 1771.3 3662.5 1776.0 3663.1C1780.6 3663.6 1785.3 3664.2 1789.9 3664.8C1794.6 3665.3 1799.2 3665.9 1803.9 3666.4C1808.5 3667.0 1813.2 3667.5 1817.8 3668.0C1822.5 3668.6 1827.1 3669.1 1831.8 3669.6C1836.5 3670.1 1841.1 3670.5 1845.8 3671.0C1850.4 3671.5 1855.1 3672.0 1859.7 3672.4C1864.4 3672.9 1869.0 3673.3 1873.7 3673.8C1878.3 3674.2 1883.0 3674.6 1887.7 3675.0C1892.3 3675.5 1897.0 3675.9 1901.6 3676.3C1906.3 3676.7 1910.9 3677.1 1915.6 3677.5C1920.2 3677.9 1924.9 3678.3 1929.5 3678.7C1934.2 3679.1 1938.9 3679.4 1943.5 3679.8C1948.2 3680.2 1952.8 3680.6 1957.5 3681.0C1962.1 3681.3 1966.8 3681.7 1971.4 3682.1C1976.1 3682.4 1980.7 3682.8 1985.4 3683.1C1990.0 3683.5 1994.7 3683.8 1999.4 3684.2C2004.0 3684.5 2008.7 3684.8 2013.3 3685.1C2018.0 3685.5 2022.6 3685.8 2027.3 3686.1C2031.9 3686.4 2036.6 3686.6 2041.2 3686.9C2045.9 3687.2 2050.6 3687.5 2055.2 3687.7C2059.9 3688.0 2064.5 3688.2 2069.2 3688.4C2073.8 3688.6 2078.5 3688.9 2083.1 3689.1C2087.8 3689.3 2092.4 3689.5 2097.1 3689.7C2101.8 3689.9 2106.4 3690.1 2111.1 3690.3C2115.7 3690.5 2120.4 3690.7 2125.0 3690.9C2129.7 3691.1 2134.3 3691.3 2139.0 3691.5C2143.6 3691.6 2148.3 3691.8 2152.9 3692.0C2157.6 3692.1 2162.3 3692.3 2166.9 3692.4C2171.6 3692.6 2176.2 3692.7 2180.9 3692.8C2185.5 3693.0 2190.2 3693.1 2194.8 3693.2C2199.5 3693.3 2206.5 3693.5 2208.8 3693.5" fill="none" stroke="#FFC000" stroke-width="6.0" stroke-linejoin="round" stroke-linecap="round"/>
<path d="M254.0 2296.3h0M268.0 2404.9h0M281.9 3019.5h0M295.9 3222.0h0M309.9 3316.6h0M323.8 3377.3h0M337.8 3424.6h0M351.7 3457.1h0M365.7 3485.9h0M379.7 3510.2h0M393.6 3528.7h0M407.6 3544.0h0M421.6 3558.7h0M435.5 3570.9h0M449.5 3581.8h0M463.4 3591.3h0M477.4 3599.3h0M491.4 3606.6h0M505.3 3613.3h0M519.3 3619.1h0M533.3 3623.9h0M547.2 3627.9h0M561.2 3631.4h0M575.1 3634.5h0M589.1 3637.3h0M603.1 3639.9h0M617.0 3642.2h0M631.0 3644.4h0M645.0 3646.5h0M658.9 3648.3h0M672.9 3650.1h0M686.8 3651.7h0M700.8 3653.3h0M714.8 3654.9h0M728.7 3656.3h0M742.7 3657.8h0M756.7 3659.1h0M770.6 3660.4h0M784.6 3661.7h0M798.6 3662.9h0M812.5 3664.1h0M826.5 3665.3h0M840.4 3666.4h0M854.4 3667.5h0M868.4 3668.6h0M882.3 3669.6h0M896.3 3670.6h0M910.3 3671.6h0M924.2 3672.6h0M938.2 3673.5h0M952.1 3674.4h0M966.1 3675.2h0M980.1 3676.1h0M994.0 3676.9h0M1008.0 3677.7h0M1022.0 3678.5h0M1035.9 3679.3h0M1049.9 3680.0h0M1063.8 3680.7h0M1077.8 3681.4h0M1091.8 3682.0h0M1105.7 3682.6h0M1119.7 3683.2h0M1133.7 3683.8h0M1147.6 3684.3h0M1161.6 3684.9h0M1175.5 3685.4h0M1189.5 3685.9h0M1203.5 3686.3h0M1217.4 3686.7h0M1231.4 3687.1h0M1245.4 2594.7h0M1259.3 2987.6h0M1273.3 3147.9h0M1287.3 3238.6h0M1301.2 3305.7h0M1315.2 3356.2h0M1329.1 3395.2h0M1343.1 3429.7h0M1357.1 3458.4h0M1371.0 3478.2h0M1385.0 3498.7h0M1399.0 3517.2h0M1412.9 3531.9h0M1426.9 3544.8h0M1440.8 3556.2h0M1454.8 3566.1h0M1468.8 3575.3h0M1482.7 3583.7h0M1496.7 3591.4h0M1510.7 3598.3h0M1524.6 3604.5h0M1538.6 3610.1h0M1552.5 3615.2h0M1566.5 3620.0h0M1580.5 3624.5h0M1594.4 3628.9h0M1608.4 3633.1h0M1622.4 3637.0h0M1636.3 3640.6h0M1650.3 3643.7h0M1664.2 3646.4h0M1678.2 3648.9h0M1692.2 3651.3h0M1706.1 3653.5h0M1720.1 3655.6h0M1734.1 3657.6h0M1748.0 3659.5h0M1762.0 3661.3h0M1776.0 3663.1h0M1789.9 3664.8h0M1803.9 3666.4h0M1817.8 3668.0h0M1831.8 3669.6h0M1845.8 3671.0h0M1859.7 3672.4h0M1873.7 3673.8h0M1887.7 3675.0h0M1901.6 3676.3h0M1915.6 3677.5h0M1929.5 3678.7h0M1943.5 3679.8h0M1957.5 3681.0h0M1971.4 3682.1h0M1985.4 3683.1h0M1999.4 3684.2h0M2013.3 3685.1h0M2027.3 3686.1h0M2041.2 3686.9h0M2055.2 3687.7h0M2069.2 3688.4h0M2083.1 3689.1h0M2097.1 3689.7h0M2111.1 3690.3h0M2125.0 3690.9h0M2139.0 3691.5h0M2152.9 3692.0h0M2166.9 3692.4h0M2180.9 3692.8h0M2194.8 3693.2h0M2208.8 3693.5h0" fill="none" stroke="#FFC000" stroke-width="23.0" stroke-linecap="round"/>
<path d="M254.0 3147.3C256.3 3141.8 265.6 3132.2 268.0 3114.5C272.6 3080.3 277.3 2980.2 281.9 2941.6C285.5 2911.9 291.2 2897.6 295.9 2883.3C300.5 2869.1 305.2 2863.3 309.9 2856.2C314.5 2849.1 319.2 2845.5 323.8 2840.6C328.5 2835.7 333.1 2830.7 337.8 2826.6C342.4 2822.6 347.1 2819.3 351.7 2816.3C356.4 2813.2 361.0 2810.7 365.7 2808.3C370.4 2805.9 375.0 2803.7 379.7 2801.7C384.3 2799.7 389.0 2798.0 393.6 2796.3C398.3 2794.6 402.9 2793.2 407.6 2791.8C412.2 2790.4 416.9 2789.0 421.6 2787.7C426.2 2786.5 430.9 2785.2 435.5 2784.1C440.2 2782.9 444.8 2781.9 449.5 2780.8C454.1 2779.8 458.8 2778.9 463.4 2777.9C468.1 2777.0 472.8 2776.1 477.4 2775.3C482.1 2774.4 486.7 2773.6 491.4 2772.8C496.0 2772.0 500.7 2771.2 505.3 2770.5C510.0 2769.8 514.6 2769.2 519.3 2768.6C523.9 2768.1 528.6 2767.6 533.3 2767.2C537.9 2766.7 542.6 2766.3 547.2 2766.0C551.9 2765.6 556.5 2765.2 561.2 2764.9C565.8 2764.5 570.5 2764.2 575.1 2763.8C579.8 2763.5 584.5 2763.2 589.1 2762.9C593.8 2762.6 598.4 2762.3 603.1 2762.0C607.7 2761.8 612.4 2761.5 617.0 2761.3C621.7 2761.0 626.3 2760.8 631.0 2760.6C635.7 2760.4 640.3 2760.2 645.0 2760.0C649.6 2759.8 654.3 2759.7 658.9 2759.5C663.6 2759.4 668.2 2759.3 672.9 2759.2C677.5 2759.1 682.2 2759.0 686.8 2758.9C691.5 2758.8 696.2 2758.7 700.8 2758.6C705.5 2758.5 710.1 2758.5 714.8 2758.4C719.4 2758.3 724.1 2758.3 728.7 2758.2C733.4 2758.1 738.0 2758.1 742.7 2758.0C747.4 2758.0 752.0 2757.9 756.7 2757.9C761.3 2757.8 766.0 2757.7 770.6 2757.7C775.3 2757.6 779.9 2757.6 784.6 2757.5C789.2 2757.5 793.9 2757.4 798.6 2757.4C803.2 2757.3 807.9 2757.2 812.5 2757.2C817.2 2757.1 821.8 2757.0 826.5 2757.0C831.1 2756.9 835.8 2756.8 840.4 2756.8C845.1 2756.7 849.7 2756.6 854.4 2756.6C859.1 2756.5 863.7 2756.4 868.4 2756.4C873.0 2756.3 877.7 2756.2 882.3 2756.2C887.0 2756.1 891.6 2756.0 896.3 2756.0C900.9 2755.9 905.6 2755.8 910.3 2755.8C914.9 2755.7 919.6 2755.6 924.2 2755.6C928.9 2755.5 933.5 2755.4 938.2 2755.4C942.8 2755.3 947.5 2755.2 952.1 2755.2C956.8 2755.1 961.5 2755.0 966.1 2755.0C970.8 2754.9 975.4 2754.8 980.1 2754.8C984.7 2754.7 989.4 2754.6 994.0 2754.6C998.7 2754.5 1003.3 2754.4 1008.0 2754.4C1012.6 2754.3 1017.3 2754.2 1022.0 2754.2C1026.6 2754.1 1031.3 2754.0 1035.9 2754.0C1040.6 2753.9 1045.2 2753.8 1049.9 2753.8C1054.5 2753.7 1059.2 2753.6 1063.8 2753.6C1068.5 2753.5 1073.2 2753.4 1077.8 2753.4C1082.5 2753.3 1087.1 2753.2 1091.8 2753.2C1096.4 2753.1 1101.1 2753.0 1105.7 2753.0C1110.4 2752.9 1115.0 2752.8 1119.7 2752.8C1124.4 2752.7 1129.0 2752.6 1133.7 2752.6C1138.3 2752.5 1143.0 2752.4 1147.6 2752.4C1152.3 2752.3 1156.9 2752.2 1161.6 2752.2C1166.2 2752.1 1170.9 2752.0 1175.5 2752.0C1180.2 2751.9 1184.9 2751.8 1189.5 2751.8C1194.2 2751.7 1198.8 2751.6 1203.5 2751.6C1208.1 2751.5 1212.8 2751.4 1217.4 2751.4C1222.1 2751.3 1230.9 2758.1 1231.4 2751.2C1236.1 2679.9 1240.7 2376.2 1245.4 2323.5C1250.0 2270.8 1254.7 2408.9 1259.3 2434.9C1263.5 2458.0 1268.6 2468.1 1273.3 2479.7C1277.9 2491.2 1282.6 2496.6 1287.3 2504.0C1291.9 2511.4 1296.6 2518.6 1301.2 2524.0C1305.9 2529.4 1310.5 2532.5 1315.2 2536.4C1319.8 2540.2 1324.5 2543.7 1329.1 2547.0C1333.8 2550.3 1338.4 2553.4 1343.1 2556.3C1347.8 2559.2 1352.4 2562.0 1357.1 2564.5C1361.7 2567.0 1366.4 2569.2 1371.0 2571.1C1375.7 2573.0 1380.3 2574.5 1385.0 2576.0C1389.6 2577.5 1394.3 2578.9 1399.0 2580.2C1403.6 2581.5 1408.3 2582.7 1412.9 2583.9C1417.6 2585.1 1422.2 2586.1 1426.9 2587.2C1431.5 2588.3 1436.2 2589.3 1440.8 2590.3C1445.5 2591.3 1450.2 2592.2 1454.8 2593.2C1459.5 2594.1 1464.1 2595.0 1468.8 2595.8C1473.4 2596.7 1478.1 2597.5 1482.7 2598.3C1487.4 2599.1 1492.0 2599.8 1496.7 2600.6C1501.3 2601.3 1506.0 2602.0 1510.7 2602.6C1515.3 2603.3 1520.0 2604.0 1524.6 2604.6C1529.3 2605.3 1533.9 2605.9 1538.6 2606.5C1543.2 2607.2 1547.9 2607.8 1552.5 2608.4C1557.2 2609.0 1561.9 2609.6 1566.5 2610.2C1571.2 2610.8 1575.8 2611.3 1580.5 2611.9C1585.1 2612.4 1589.8 2613.0 1594.4 2613.5C1599.1 2614.0 1603.7 2614.5 1608.4 2615.0C1613.1 2615.4 1617.7 2615.9 1622.4 2616.3C1627.0 2616.7 1631.7 2617.2 1636.3 2617.5C1641.0 2617.9 1645.6 2618.3 1650.3 2618.6C1654.9 2619.0 1659.6 2619.3 1664.2 2619.6C1668.9 2619.9 1673.6 2620.2 1678.2 2620.5C1682.9 2620.7 1687.5 2621.0 1692.2 2621.3C1696.8 2621.5 1701.5 2621.8 1706.1 2622.0C1710.8 2622.3 1715.4 2622.5 1720.1 2622.8C1724.8 2623.0 1729.4 2623.2 1734.1 2623.4C1738.7 2623.6 1743.4 2623.9 1748.0 2624.1C1752.7 2624.3 1757.3 2624.5 1762.0 2624.7C1766.6 2624.9 1771.3 2625.1 1776.0 2625.2C1780.6 2625.4 1785.3 2625.6 1789.9 2625.8C1794.6 2626.0 1799.2 2626.1 1803.9 2626.3C1808.5 2626.5 1813.2 2626.6 1817.8 2626.8C1822.5 2626.9 1827.1 2627.1 1831.8 2627.2C1836.5 2627.4 1841.1 2627.5 1845.8 2627.7C1850.4 2627.8 1855.1 2628.0 1859.7 2628.1C1864.4 2628.3 1869.0 2628.5 1873.7 2628.7C1878.3 2628.8 1883.0 2629.0 1887.7 2629.2C1892.3 2629.4 1897.0 2629.6 1901.6 2629.7C1906.3 2629.9 1910.9 2630.1 1915.6 2630.2C1920.2 2630.3 1924.9 2630.5 1929.5 2630.6C1934.2 2630.7 1938.9 2630.8 1943.5 2630.9C1948.2 2631.0 1952.8 2631.2 1957.5 2631.3C1962.1 2631.4 1966.8 2631.5 1971.4 2631.6C1976.1 2631.7 1980.7 2631.8 1985.4 2631.9C1990.0 2632.1 1994.7 2632.2 1999.4 2632.3C2004.0 2632.4 2008.7 2632.5 2013.3 2632.6C2018.0 2632.7 2022.6 2632.8 2027.3 2632.9C2031.9 2633.0 2036.6 2633.1 2041.2 2633.2C2045.9 2633.3 2050.6 2633.4 2055.2 2633.5C2059.9 2633.6 2064.5 2633.6 2069.2 2633.7C2073.8 2633.8 2078.5 2633.9 2083.1 2634.0C2087.8 2634.1 2092.4 2634.2 2097.1 2634.2C2101.8 2634.3 2106.4 2634.4 2111.1 2634.4C2115.7 2634.5 2120.4 2634.6 2125.0 2634.7C2129.7 2634.7 2134.3 2634.8 2139.0 2634.8C2143.6 2634.9 2148.3 2634.9 2152.9 2635.0C2157.6 2635.0 2162.3 2635.1 2166.9 2635.1C2171.6 2635.2 2176.2 2635.2 2180.9 2635.2C2185.5 2635.3 2190.2 2635.3 2194.8 2635.3C2199.5 2635.3 2206.5 2635.4 2208.8 2635.4" fill="none" stroke="#5B9BD5" stroke-width="6.0" stroke-linejoin="round" stroke-linecap="round"/>
<path d="M254.0 3147.3h0M268.0 3114.5h0M281.9 2941.6h0M295.9 2883.3h0M309.9 2856.2h0M323.8 2840.6h0M337.8 2826.6h0M351.7 2816.3h0M365.7 2808.3h0M379.7 2801.7h0M393.6 2796.3h0M407.6 2791.8h0M421.6 2787.7h0M435.5 2784.1h0M449.5 2780.8h0M463.4 2777.9h0M477.4 2775.3h0M491.4 2772.8h0M505.3 2770.5h0M519.3 2768.6h0M533.3 2767.2h0M547.2 2766.0h0M561.2 2764.9h0M575.1 2763.8h0M589.1 2762.9h0M603.1 2762.0h0M617.0 2761.3h0M631.0 2760.6h0M645.0 2760.0h0M658.9 2759.5h0M672.9 2759.2h0M686.8 2758.9h0M700.8 2758.6h0M714.8 2758.4h0M728.7 2758.2h0M742.7 2758.0h0M756.7 2757.9h0M770.6 2757.7h0M784.6 2757.5h0M798.6 2757.4h0M812.5 2757.2h0M826.5 2757.0h0M840.4 2756.8h0M854.4 2756.6h0M868.4 2756.4h0M882.3 2756.2h0M896.3 2756.0h0M910.3 2755.8h0M924.2 2755.6h0M938.2 2755.4h0M952.1 2755.2h0M966.1 2755.0h0M980.1 2754.8h0M994.0 2754.6h0M1008.0 2754.4h0M1022.0 2754.2h0M1035.9 2754.0h0M1049.9 2753.8h0M1063.8 2753.6h0M1077.8 2753.4h0M1091.8 2753.2h0M1105.7 2753.0h0M1119.7 2752.8h0M1133.7 2752.6h0M1147.6 2752.4h0M1161.6 2752.2h0M1175.5 2752.0h0M1189.5 2751.8h0M1203.5 2751.6h0M1217.4 2751.4h0M1231.4 2751.2h0M1245.4 2323.5h0M1259.3 2434.9h0M1273.3 2479.7h0M1287.3 2504.0h0M1301.2 2524.0h0M1315.2 2536.4h0M1329.1 2547.0h0M1343.1 2556.3h0M1357.1 2564.5h0M1371.0 2571.1h0M1385.0 2576.0h0M1399.0 2580.2h0M1412.9 2583.9h0M1426.9 2587.2h0M1440.8 2590.3h0M1454.8 2593.2h0M1468.8 2595.8h0M1482.7 2598.3h0M1496.7 2600.6h0M1510.7 2602.6h0M1524.6 2604.6h0M1538.6 2606.5h0M1552.5 2608.4h0M1566.5 2610.2h0M1580.5 2611.9h0M1594.4 2613.5h0M1608.4 2615.0h0M1622.4 2616.3h0M1636.3 2617.5h0M1650.3 2618.6h0M1664.2 2619.6h0M1678.2 2620.5h0M1692.2 2621.3h0M1706.1 2622.0h0M1720.1 2622.8h0M1734.1 2623.4h0M1748.0 2624.1h0M1762.0 2624.7h0M1776.0 2625.2h0M1789.9 2625.8h0M1803.9 2626.3h0M1817.8 2626.8h0M1831.8 2627.2h0M1845.8 2627.7h0M1859.7 2628.1h0M1873.7 2628.7h0M1887.7 2629.2h0M1901.6 2629.7h0M1915.6 2630.2h0M1929.5 2630.6h0M1943.5 2630.9h0M1957.5 2631.3h0M1971.4 2631.6h0M1985.4 2631.9h0M1999.4 2632.3h0M2013.3 2632.6h0M2027.3 2632.9h0M2041.2 2633.2h0M2055.2 2633.5h0M2069.2 2633.7h0M2083.1 2634.0h0M2097.1 2634.2h0M2111.1 2634.4h0M2125.0 2634.7h0M2139.0 2634.8h0M2152.9 2635.0h0M2166.9 2635.1h0M2180.9 2635.2h0M2194.8 2635.3h0M2208.8 2635.4h0" fill="none" stroke="#5B9BD5" stroke-width="23.0" stroke-linecap="round"/>
<polygon fill="#4472C4" points="1338.6,2470.2 1573.0,2470.2 1573.0,2452.0 1627.0,2479.0 1573.0,2506.0 1573.0,2487.8 1338.6,2487.8"/>
<polygon fill="#FFC000" points="1227.0,3303.9 994.8,3303.9 994.8,3285.7 940.6,3312.7 994.8,3339.7 994.8,3321.4 1227.0,3321.4"/>
<g font-size="61.1">
<text x="201.5" y="3726.1" text-anchor="end">0</text>
<text x="201.5" y="3406.7" text-anchor="end">50</text>
<text x="201.5" y="3087.2" text-anchor="end">100</text>
<text x="201.5" y="2767.8" text-anchor="end">150</text>
<text x="201.5" y="2448.3" text-anchor="end">200</text>
<text x="201.5" y="2128.9" text-anchor="end">250</text>
<text x="2260.0" y="3726.1">0</text>
<text x="2260.0" y="3526.4">50</text>
<text x="2260.0" y="3326.8">100</text>
<text x="2260.0" y="3127.2">150</text>
<text x="2260.0" y="2927.5">200</text>
<text x="2260.0" y="2727.8">250</text>
<text x="2260.0" y="2528.2">300</text>
<text x="2260.0" y="2328.6">350</text>
<text x="2260.0" y="2128.9">400</text>
<text x="254.0" y="3801.0" text-anchor="middle">0</text>
<text x="533.3" y="3801.0" text-anchor="middle">200</text>
<text x="812.5" y="3801.0" text-anchor="middle">400</text>
<text x="1091.8" y="3801.0" text-anchor="middle">600</text>
<text x="1371.0" y="3801.0" text-anchor="middle">800</text>
<text x="1650.3" y="3801.0" text-anchor="middle">1000</text>
<text x="1929.5" y="3801.0" text-anchor="middle">1200</text>
<text x="2208.8" y="3801.0" text-anchor="middle">1400</text>
</g>
<g font-size="70.7" text-anchor="middle">
<text x="1231.0" y="3890.0">t (seconds)</text>
<text transform="translate(80.0 2910.0) rotate(-90)">P (Watts)</text>
<text transform="translate(2430.0 2910.0) rotate(-90)">Q (J)</text>
</g>
</g>
</g>
<g id="captions" filter="url(#soft2)">
<text x="1231.5" y="1972.0" font-size="84" text-anchor="middle" font-weight="normal">(<tspan font-weight="bold" font-size="88" dx="-1">b</tspan><tspan dx="-1">)</tspan></text>
<text x="1231.5" y="4085.0" font-size="84" text-anchor="middle" font-weight="normal">(<tspan font-weight="bold" font-size="85" dx="-2">c</tspan><tspan dx="-2">)</tspan></text>
</g>
</svg>
</body>
</html>
